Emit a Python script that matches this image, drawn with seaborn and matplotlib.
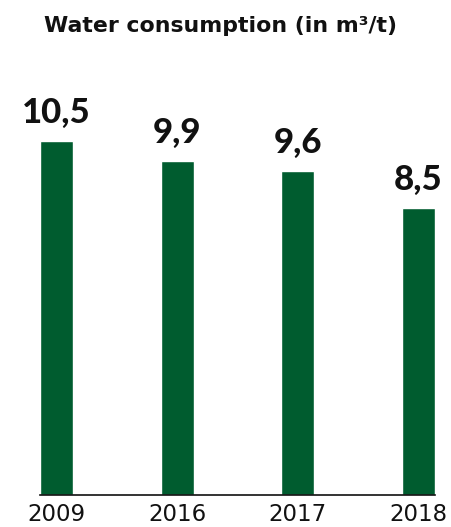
import matplotlib
matplotlib.use("Agg")
import matplotlib.pyplot as plt
import seaborn as sns
import pandas as pd

years = ["2009", "2016", "2017", "2018"]
consumption = [10.5, 9.9, 9.6, 8.5]
value_labels = ["10,5", "9,9", "9,6", "8,5"]
title = "Water consumption (in m³/t)"

green = "#005C2F"
ink = "#111111"
bar_width = 0.273

sns.set_theme(style="white")
plt.rcParams["font.family"] = ["Lato", "DejaVu Sans"]

df = pd.DataFrame({"year": years, "value": consumption})

fig = plt.figure(figsize=(4.51, 5.27), dpi=100)
ax = fig.add_axes([40 / 451, 32 / 527, 395 / 451, 404.6 / 527])

sns.barplot(data=df, x="year", y="value", color=green, saturation=1,
            width=bar_width, ax=ax)

ax.bar_label(ax.containers[0], labels=value_labels, padding=9,
             fontsize=25, fontweight="black", color=ink)

ax.set_xlim(-bar_width / 2, len(years) - 1 + bar_width / 2)
ax.set_ylim(0, 12)
ax.set_xlabel("")
ax.set_ylabel("")
ax.set_yticks([])
for side in ["left", "right", "top"]:
    ax.spines[side].set_visible(False)
ax.spines["bottom"].set_color(ink)
ax.spines["bottom"].set_linewidth(1.2)
ax.tick_params(axis="x", length=0, pad=6, labelcolor=ink)
for lbl in ax.get_xticklabels():
    lbl.set_fontfamily("DejaVu Sans")
    lbl.set_fontsize(16.5)

fig.text(221 / 451, 1 - 26 / 527, title, ha="center", va="center",
         fontsize=15.8, fontweight="bold", color=ink, family="DejaVu Sans")

fig.savefig("out.png", dpi=100, facecolor="white")
